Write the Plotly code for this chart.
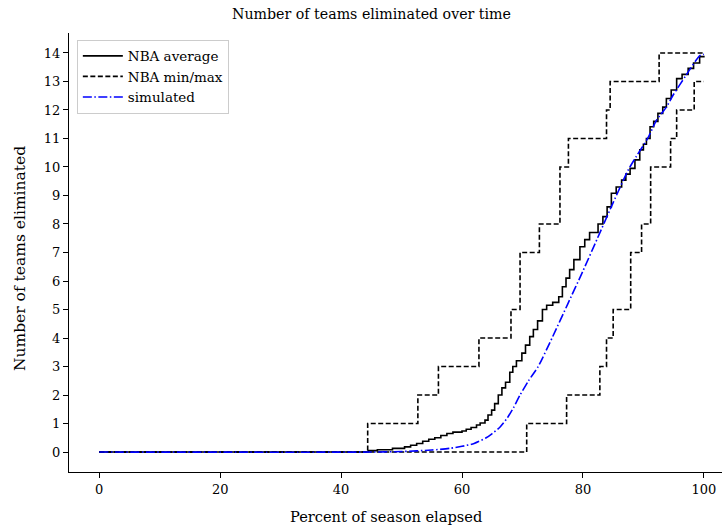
import plotly.graph_objects as go

# NBA average (step curve), percent of season vs teams eliminated
avg_x = [0, 44.5, 46, 48.5, 50.5, 51.5, 52.5, 53.5, 54.5, 55.5, 56.5, 57.5, 58.5, 60, 60.7,
         61.5, 62.4, 63, 63.8, 64.3, 64.9, 65.4, 66, 66.6, 67.2, 67.9, 68.4, 69, 69.9, 70.5,
         71.2, 71.8, 72.5, 73.3, 74, 75, 76, 76.6, 77.2, 77.8, 78.5, 79.5, 80.3, 81.1, 82.5,
         83.3, 84, 84.7, 85.5, 86.4, 87.1, 87.8, 88.6, 89.4, 90, 90.5, 91.1, 91.7, 92.4, 93.2,
         93.8, 94.6, 95.5, 96.4, 97.4, 98.3, 99.3, 100]
avg_y = [0, 0.05, 0.08, 0.13, 0.18, 0.24, 0.3, 0.38, 0.45, 0.5, 0.58, 0.65, 0.7, 0.74, 0.8,
         0.86, 0.95, 1.02, 1.12, 1.3, 1.47, 1.7, 2.0, 2.25, 2.45, 2.8, 3.0, 3.2, 3.47, 3.75,
         4.05, 4.3, 4.6, 5.0, 5.15, 5.25, 5.45, 5.8, 6.1, 6.4, 6.75, 7.2, 7.45, 7.7, 8.0,
         8.26, 8.6, 9.08, 9.3, 9.54, 9.75, 9.95, 10.25, 10.6, 10.8, 11.0, 11.41, 11.6, 11.88, 12.1,
         12.4, 12.7, 13.1, 13.25, 13.46, 13.65, 13.87, 13.9]

# NBA max
max_x = [0, 44.4, 52.7, 56.1, 62.8, 68.1, 69.6, 72.8, 76.2, 77.6, 83.9, 84.5, 92.6, 100]
max_y = [0, 1, 2, 3, 4, 5, 7, 8, 10, 11, 12, 13, 14, 14]

# NBA min
min_x = [0, 70.7, 77.3, 82.8, 83.9, 85.0, 87.9, 89.7, 91.2, 94.5, 95.5, 98.4, 100]
min_y = [0, 1, 2, 3, 4, 5, 7, 8, 10, 11, 12, 13, 13]

# simulated
sim_x = [0, 45, 50, 55, 58, 60, 62, 64, 65, 66.3, 67.5, 68.5, 69.6, 71, 72.6, 75, 77.5, 80,
         82.4, 85, 87.5, 88.8, 90.7, 92.2, 93.8, 95, 97, 99.3, 100]
sim_y = [0, 0, 0.02, 0.07, 0.13, 0.2, 0.3, 0.5, 0.65, 0.88, 1.2, 1.55, 2.0, 2.5, 3.0, 4.05,
         5.2, 6.35, 7.5, 8.75, 9.9, 10.36, 11.0, 11.65, 12.1, 12.55, 13.2, 13.9, 13.95]

x_ticks = [0, 20, 40, 60, 80, 100]
y_ticks = list(range(0, 15))

FONT = "DejaVu Serif"

fig = go.Figure()
fig.add_trace(go.Scatter(x=avg_x, y=avg_y, mode="lines", name="NBA average",
                         line=dict(color="black", width=1.6, shape="hv")))
fig.add_trace(go.Scatter(x=max_x, y=max_y, mode="lines", name="NBA min/max",
                         line=dict(color="black", width=1.6, dash="5px,2.5px", shape="hv")))
fig.add_trace(go.Scatter(x=min_x, y=min_y, mode="lines", name="NBA min",
                         showlegend=False,
                         line=dict(color="black", width=1.6, dash="5px,2.5px", shape="hv")))
fig.add_trace(go.Scatter(x=sim_x, y=sim_y, mode="lines", name="simulated",
                         line=dict(color="blue", width=1.6, dash="9px,2.5px,1.5px,2.5px",
                                   shape="spline", smoothing=0.6)))

axis_common = dict(showline=True, linecolor="black", linewidth=1.3, ticks="outside",
                   ticklen=5, tickwidth=1.1, tickcolor="black", showgrid=False,
                   zeroline=False, mirror=False,
                   tickfont=dict(family=FONT, size=13, color="black"))

fig.update_layout(
    width=722, height=529,
    margin=dict(l=69, r=0, t=33, b=57),
    plot_bgcolor="white", paper_bgcolor="white",
    font=dict(family=FONT, color="black"),
    xaxis=dict(range=[-5, 103], tickvals=x_ticks, **axis_common),
    yaxis=dict(range=[-0.7, 14.7], tickvals=y_ticks, **axis_common),
    legend=dict(x=0.012, y=0.985, xanchor="left", yanchor="top",
                bgcolor="rgba(255,255,255,0.85)", bordercolor="#cccccc", borderwidth=1,
                font=dict(family=FONT, size=13.5, color="black"),
                tracegroupgap=0, itemwidth=40),
    showlegend=True,
    annotations=[
        dict(text="Number of teams eliminated over time", xref="paper", yref="paper",
             x=0.464, y=1.0, yshift=19, showarrow=False, xanchor="center", yanchor="middle",
             font=dict(family=FONT, size=14.2, color="black")),
        dict(text="Percent of season elapsed", xref="paper", yref="paper",
             x=0.485, y=0, yshift=-44, showarrow=False, xanchor="center", yanchor="middle",
             font=dict(family=FONT, size=14.6, color="black")),
        dict(text="Number of teams eliminated", xref="paper", yref="paper",
             x=0, xshift=-49, y=0.485, showarrow=False, textangle=-90,
             xanchor="center", yanchor="middle",
             font=dict(family=FONT, size=15.5, color="black")),
    ],
)

fig.write_html("out.html")
